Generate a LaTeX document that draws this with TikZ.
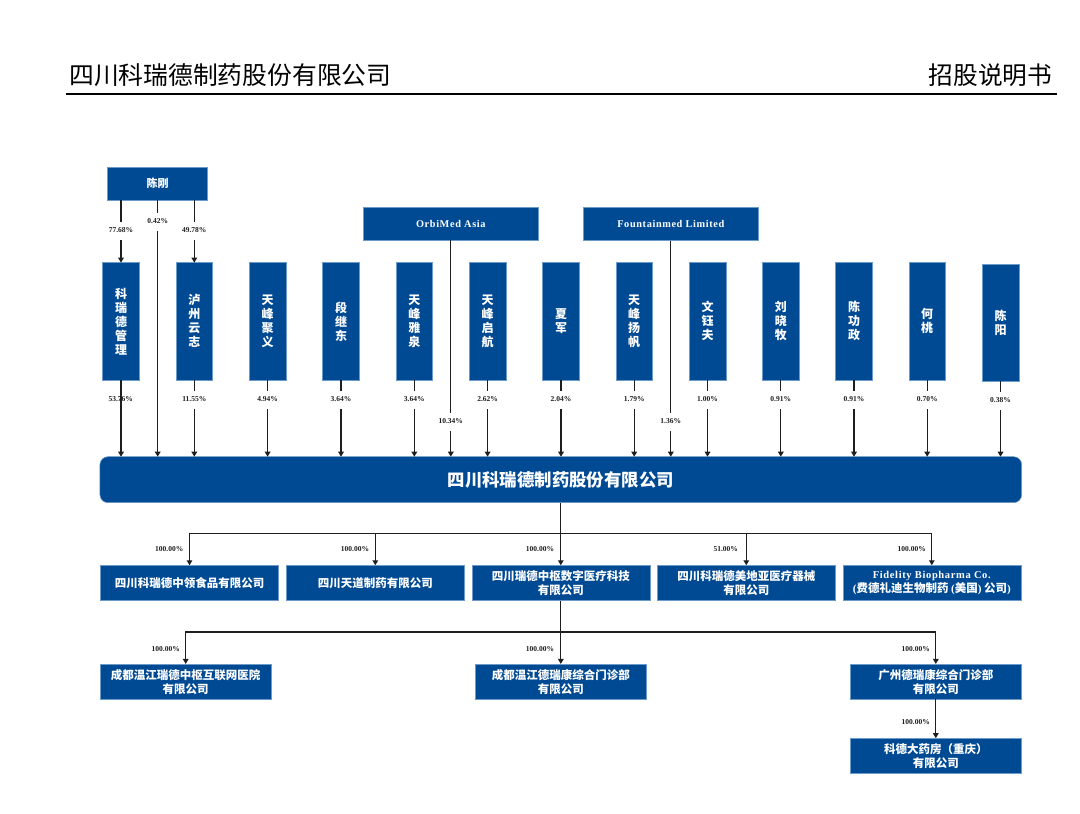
\documentclass[tikz,border=0pt]{standalone}
\usepackage{fontspec}
\usetikzlibrary{arrows.meta}
\setmainfont{Liberation Serif}
\newfontfamily\cjk{Noto Sans CJK SC}
\newfontfamily\lat[LetterSpace=6]{Liberation Serif}
\definecolor{bxblue}{HTML}{004A94}
\definecolor{bxedge}{HTML}{6C9AC9}
\definecolor{ln}{HTML}{1E1E1E}
\newcommand{\fz}[2]{\fontsize{#1pt}{#2pt}\selectfont}
\tikzset{
  bx/.style={draw=bxedge,line width=.5pt,fill=bxblue,text=white,align=center,inner sep=0pt,outer sep=0pt},
  sub/.style={bx,minimum width=178pt,minimum height=35.3pt,font=\cjk\bfseries\fz{11.5}{14}},
  sec/.style={bx,minimum width=170.2pt,minimum height=35.5pt,font=\cjk\bfseries\fz{11.5}{14}},
  top/.style={bx,minimum width=175pt,minimum height=33.3pt,font=\lat\bfseries\fz{10.3}{12}},
  bar/.style={bx,minimum width=36.7pt,minimum height=117.3pt,font=\cjk\bfseries\fz{12}{14}},
  conn/.style={draw=ln,line width=1.2pt},
  arr/.style={conn,-{Triangle[width=5.6pt,length=5pt]}},
  pct/.style={font=\bfseries\fz{7.5}{8},text=ln,inner sep=0pt},
  pcw/.style={pct,fill=white,anchor=base,text height=10.5pt,text depth=7.5pt,inner xsep=1pt},
}
\begin{document}
\begin{tikzpicture}[x=1pt,y=-1pt]
\useasboundingbox (0,0) rectangle (1080,814);
% header
\node[font=\cjk\fz{24.8}{26},anchor=west,inner sep=0pt] (hl) at (69,75) {四川科瑞德制药股份有限公司};
\node[font=\cjk\fz{24.7}{26},anchor=east,inner sep=0pt] (hr) at (1052.5,75) {招股说明书};
\coordinate (rl) at (66,94);
\coordinate (rr) at (1057,94);
\draw[line width=1.7pt,black] (rl) -- (rr);
% owners
\node[bx,minimum width=100pt,minimum height=33pt,font=\cjk\bfseries\fz{11}{13}] (chen) at (157.7,183.5) {陈刚};
\node[top] (orb) at (450.8,223.6) {OrbiMed Asia};
\node[top] (fount) at (670.8,224) {Fountainmed Limited};
\node[bar] (k1) at (121,321.3) {科\\瑞\\德\\管\\理};
\node[bar] (k2) at (194.3,321.3) {泸\\州\\云\\志};
\node[bar] (k3) at (267.6,321.3) {天\\峰\\聚\\义};
\node[bar] (k4) at (341,321.3) {段\\继\\东};
\node[bar] (k5) at (414.3,321.3) {天\\峰\\雅\\泉};
\node[bar] (k6) at (487.6,321.3) {天\\峰\\启\\航};
\node[bar] (k7) at (561,321.3) {夏\\军};
\node[bar] (k8) at (634.2,321.3) {天\\峰\\扬\\帆};
\node[bar] (k9) at (707.5,321.3) {文\\钰\\夫};
\node[bar] (k10) at (780.8,321.3) {刘\\晓\\牧};
\node[bar] (k11) at (854,321.3) {陈\\功\\政};
\node[bar] (k12) at (927.2,321.3) {何\\桃};
\node[bar] (k13) at (1000.5,322.5) {陈\\阳};
% company
\node[bx,rounded corners=8pt,minimum width=921.7pt,minimum height=46pt,font=\cjk\bfseries\fz{17.4}{20}] (main) at (560.8,479.7) {四川科瑞德制药股份有限公司};
% subsidiaries
\node[sub] (r1) at (189.5,582.9) {四川科瑞德中领食品有限公司};
\node[sub] (r2) at (375.3,582.9) {四川天道制药有限公司};
\node[sub] (r3) at (560.8,582.9) {四川瑞德中枢数字医疗科技\\有限公司};
\node[sub] (r4) at (746.3,582.9) {四川科瑞德美地亚医疗器械\\有限公司};
\node[sub] (r5) at (931.8,582.9) {{\lat\fz{10.5}{14}Fidelity Biopharma Co.}\\{\lat\fz{11}{14}(}费德礼迪生物制药 {\lat\fz{11}{14}(}美国{\lat\fz{11}{14})} 公司{\lat\fz{11}{14})}};
\node[sec] (s1) at (185.7,681.7) {成都温江瑞德中枢互联网医院\\有限公司};
\node[sec] (s2) at (560.8,681.7) {成都温江德瑞康综合门诊部\\有限公司};
\node[sec] (s3) at (935.8,681.7) {广州德瑞康综合门诊部\\有限公司};
\node[sec] (s4) at (935.8,755.9) {科德大药房（重庆）\\有限公司};
% connectors
\coordinate (b1) at (560.8,533.3);
\coordinate (b2) at (560.8,632);
\draw[arr] (k1.north |- chen.south) -- (k1.north);
\draw[arr] (k2.north |- chen.south) -- (k2.north);
\draw[arr] (chen.south) -- (chen.south |- main.north);
\foreach \k in {k1,k2,k3,k4,k5,k6,k7,k8,k9,k10,k11,k12,k13}
  \draw[arr] (\k.south) -- (\k.south |- main.north);
\draw[arr] (orb.south) -- (orb.south |- main.north);
\draw[arr] (fount.south) -- (fount.south |- main.north);
\draw[arr] (main.south) -- (r3.north);
\foreach \r in {r1,r2,r4,r5}
  \draw[arr] (b1) -| (\r.north);
\draw[arr] (r3.south) -- (s2.north);
\draw[arr] (b2) -| (s1.north);
\draw[arr] (b2) -| (s3.north);
\draw[arr] (s3.south) -- (s4.north);
% percentages
\node[pcw] (p1) at (121,232) {77.68\%};
\node[pcw] (p2) at (157.7,223) {0.42\%};
\node[pcw] (p3) at (194.3,232) {49.78\%};
\node[pct] (q1) at (120.8,399) {53.76\%};
\node[pcw] (q2) at (194.3,401.8) {11.55\%};
\node[pcw] (q3) at (267.6,401.8) {4.94\%};
\node[pcw] (q4) at (341,401.8) {3.64\%};
\node[pcw] (q5) at (414.3,401.8) {3.64\%};
\node[pcw] (q6) at (450.8,423.8) {10.34\%};
\node[pcw] (q7) at (487.6,401.8) {2.62\%};
\node[pcw] (q8) at (561,401.8) {2.04\%};
\node[pcw] (q9) at (634.2,401.8) {1.79\%};
\node[pcw] (q10) at (670.8,423.8) {1.36\%};
\node[pcw] (q11) at (707.5,401.8) {1.00\%};
\node[pcw] (q12) at (780.8,401.8) {0.91\%};
\node[pcw] (q13) at (854,401.8) {0.91\%};
\node[pcw] (q14) at (927.2,401.8) {0.70\%};
\node[pcw] (q15) at (1000.5,402.8) {0.38\%};
\node[pct] (t1) at (169.3,549.3) {100.00\%};
\node[pct] (t2) at (355,549.3) {100.00\%};
\node[pct] (t3) at (540,549.3) {100.00\%};
\node[pct] (t4) at (725.7,549.3) {51.00\%};
\node[pct] (t5) at (911.7,549.3) {100.00\%};
\node[pct] (u1) at (165.7,649.3) {100.00\%};
\node[pct] (u2) at (540,649.3) {100.00\%};
\node[pct] (u3) at (915.7,649.3) {100.00\%};
\node[pct] (u4) at (915.7,721.7) {100.00\%};
\end{tikzpicture}
\end{document}
